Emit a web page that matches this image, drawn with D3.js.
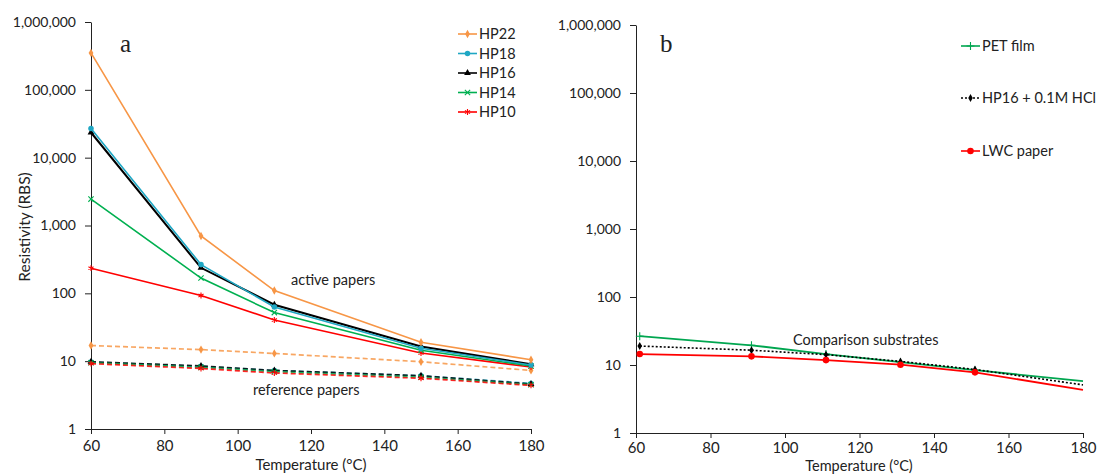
<!DOCTYPE html>
<html>
<head>
<meta charset="utf-8">
<script src="https://cdn.jsdelivr.net/npm/d3@7"></script>
<style>
  body { margin: 0; background: #fff; }
  text { font-family: Lato, "Liberation Sans", sans-serif; fill: #222; }
  .axis path, .axis line { stroke: #222; }
  .axis text { font-size: 14px; }
</style>
</head>
<body>
<svg width="1097" height="475"></svg>
<script>
// panel a: active (solid) and reference (dashed) papers
var tempsA = [60, 90, 110, 150, 180];
var activeHP22 = [350000, 700, 110, 19, 10.5];
var activeHP18 = [27000, 265, 63, 15.5, 8.8];
var activeHP16 = [23500, 238, 68, 16.5, 9];
var activeHP14 = [2450, 168, 52, 14.5, 8.5];
var activeHP10 = [235, 93, 40.5, 13.2, 8.2];
var refHP22 = [17, 14.8, 13, 9.8, 7.3];
var refHP18 = [9.7, 8.4, 7.3, 6.1, 4.7];
var refHP16 = [9.8, 8.5, 7.3, 6.1, 4.6];
var refHP14 = [9.5, 8.1, 7.0, 5.8, 4.5];
var refHP10 = [9.2, 7.8, 6.7, 5.6, 4.4];

// panel b: comparison substrates
var tempsB = [61, 91, 111, 131, 151, 180];
var petFilm = [26.5, 19.5, 14.5, 11, 8.4, 5.8];
var hp16Hcl = [19, 16.5, 14.2, 11.3, 8.6, 5.1];
var lwcPaper = [14.5, 13.4, 11.8, 10.1, 7.8, 4.3];

var xTicks = [60, 80, 100, 120, 140, 160, 180];
var yTicks = [1, 10, 100, 1000, 10000, 100000, 1000000];

var svg = d3.select("svg");
var fmt = d3.format(",");

var seriesA = [
  {name: "HP22", color: "#F79646", sym: d3.symbolDiamond, size: 20, active: activeHP22, ref: refHP22},
  {name: "HP18", color: "#1FA7C4", sym: d3.symbolCircle, size: 24, active: activeHP18, ref: refHP18},
  {name: "HP16", color: "#000000", sym: d3.symbolTriangle, size: 20, active: activeHP16, ref: refHP16},
  {name: "HP14", color: "#00B050", sym: d3.symbolX, size: 20, stroke: true, active: activeHP14, ref: refHP14},
  {name: "HP10", color: "#FF0000", sym: d3.symbolAsterisk, size: 24, stroke: true, active: activeHP10, ref: refHP10}
];

var seriesB = [
  {name: "PET film", color: "#00A650", sym: d3.symbolPlus, size: 22, stroke: true, dash: null, vals: petFilm},
  {name: "HP16 + 0.1M HCl", color: "#000000", sym: d3.symbolDiamond, size: 18, dash: "2,2", vals: hp16Hcl},
  {name: "LWC paper", color: "#FF0000", sym: d3.symbolCircle, size: 34, dash: null, vals: lwcPaper}
];

function panel(xr, yr, pad) {
  var x = d3.scaleLinear().domain([60, 180]).range(xr);
  var y = d3.scaleLog().domain([1, 1000000]).range(yr);

  svg.append("g")
      .attr("class", "axis")
      .attr("transform", "translate(0," + yr[0] + ")")
      .call(d3.axisBottom(x).tickValues(xTicks).tickSize(5).tickSizeOuter(0).tickPadding(pad))
      .selectAll("text").style("font-size", "15px");

  svg.append("g")
      .attr("class", "axis")
      .attr("transform", "translate(" + xr[0] + ",0)")
      .call(d3.axisLeft(y).tickValues(yTicks).tickFormat(fmt).tickSize(6).tickSizeOuter(0).tickPadding(9));

  return {x: x, y: y};
}

function marker(g, s, px, py) {
  g.append("path")
      .attr("transform", "translate(" + px + "," + py + ")")
      .attr("d", d3.symbol().type(s.sym).size(s.size)())
      .attr("fill", s.stroke ? "none" : s.color)
      .attr("stroke", s.stroke ? s.color : "none")
      .attr("stroke-width", 1.1);
}

// ---- panel a
var a = panel([91, 531], [429, 22], 6);
var gA = svg.append("g");

seriesA.forEach(function(s) {
  var line = d3.line()
      .x(function(d, i) { return a.x(tempsA[i]); })
      .y(function(d) { return a.y(d); });
  gA.append("path").datum(s.ref)
      .attr("d", line).attr("fill", "none")
      .attr("stroke", s.color).attr("stroke-width", 1.7)
      .attr("stroke-dasharray", "5,3").attr("opacity", 0.85);
  s.ref.forEach(function(d, i) { marker(gA, s, a.x(tempsA[i]), a.y(d)); });
});

seriesA.slice().reverse().forEach(function(s) {
  var line = d3.line()
      .x(function(d, i) { return a.x(tempsA[i]); })
      .y(function(d) { return a.y(d); });
  gA.append("path").datum(s.active)
      .attr("d", line).attr("fill", "none")
      .attr("stroke", s.color).attr("stroke-width", s.name == "HP16" ? 2 : 1.6);
  s.active.forEach(function(d, i) { marker(gA, s, a.x(tempsA[i]), a.y(d)); });
});

// legend a
seriesA.forEach(function(s, i) {
  var ly = 34 + i * 19.5;
  svg.append("line").attr("x1", 458).attr("x2", 477).attr("y1", ly).attr("y2", ly)
      .attr("stroke", s.color).attr("stroke-width", 1.6);
  marker(svg, s, 467.5, ly);
  svg.append("text").attr("x", 479).attr("y", ly).attr("dy", "0.35em")
      .style("font-size", "14.5px").text(s.name);
});

svg.append("text").attr("x", 120).attr("y", 52)
    .style("font-family", "'Liberation Serif', serif").style("font-size", "25px").text("a");
svg.append("text").attr("x", 291).attr("y", 285).style("font-size", "14.5px").text("active papers");
svg.append("text").attr("x", 253).attr("y", 395).style("font-size", "14.5px").text("reference papers");
svg.append("text").attr("transform", "translate(30,227) rotate(-90)")
    .attr("text-anchor", "middle").style("font-size", "15.5px").text("Resistivity (RBS)");
svg.append("text").attr("x", 311).attr("y", 470).attr("text-anchor", "middle")
    .style("font-size", "15px").text("Temperature (°C)");

// ---- panel b
var b = panel([636, 1083], [433, 25], 4);
var gB = svg.append("g");

seriesB.forEach(function(s) {
  var line = d3.line()
      .x(function(d, i) { return b.x(tempsB[i]); })
      .y(function(d) { return b.y(d); });
  gB.append("path").datum(s.vals)
      .attr("d", line).attr("fill", "none")
      .attr("stroke", s.color).attr("stroke-width", s.dash ? 1.6 : 1.8)
      .attr("stroke-dasharray", s.dash);
  s.vals.slice(0, -1).forEach(function(d, i) { marker(gB, s, b.x(tempsB[i]), b.y(d)); });
});

// legend b
var legY = [46, 98, 151];
seriesB.forEach(function(s, i) {
  svg.append("line").attr("x1", 961).attr("x2", 980).attr("y1", legY[i]).attr("y2", legY[i])
      .attr("stroke", s.color).attr("stroke-width", 1.6).attr("stroke-dasharray", s.dash);
  marker(svg, s, 970.5, legY[i]);
  svg.append("text").attr("x", 982).attr("y", legY[i]).attr("dy", "0.35em")
      .style("font-size", "14.5px").text(s.name);
});

svg.append("text").attr("x", 660).attr("y", 52)
    .style("font-family", "'Liberation Serif', serif").style("font-size", "25px").text("b");
svg.append("text").attr("x", 793).attr("y", 345).style("font-size", "14.5px").text("Comparison substrates");
svg.append("text").attr("x", 859).attr("y", 471).attr("text-anchor", "middle")
    .style("font-size", "14.5px").text("Temperature (°C)");
</script>
</body>
</html>
